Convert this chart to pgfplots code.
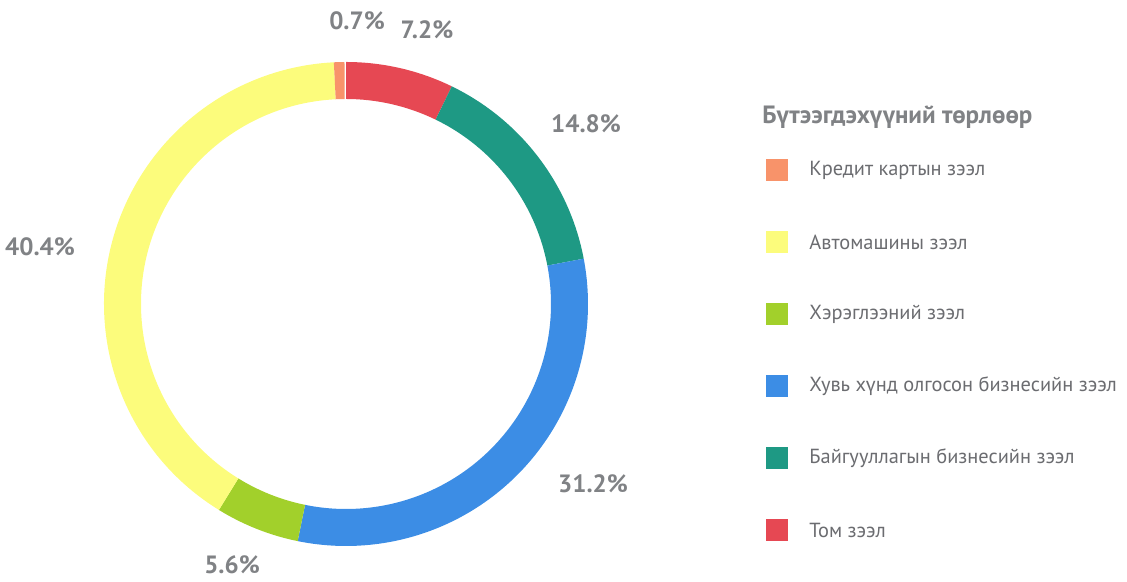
\documentclass[border=0pt]{standalone}
\usepackage{fontspec}
\setmainfont{PT Sans}
\usepackage{pgfplots}
\usepackage{pgfplotstable}
\pgfplotsset{compat=1.18}

\definecolor{cOrange}{HTML}{F8936A}
\definecolor{cYellow}{HTML}{FCFC7C}
\definecolor{cGreen}{HTML}{A2D02B}
\definecolor{cBlue}{HTML}{3C8DE5}
\definecolor{cTeal}{HTML}{1E9984}
\definecolor{cRed}{HTML}{E64853}
\definecolor{lblgray}{HTML}{808285}
\definecolor{txtgray}{HTML}{6B6C70}

% clockwise from 12 o'clock; label position in pixels
\pgfplotstableread{
value color   lx  ly
7.2   cRed    427 30
14.8  cTeal   586 124
31.2  cBlue   593 484
5.6   cGreen  232 565
40.4  cYellow 40  247
0.7   cOrange 357 21
}\donut

\begin{document}
\begin{tikzpicture}
\begin{axis}[
    hide axis,
    x=0.5pt, y=0.5pt,
    xmin=0, xmax=1127, ymin=0, ymax=582,
    clip=false,
]
\path (axis cs:0,0) rectangle (axis cs:1127,582);
\pgfplotstablegetrowsof{\donut}
\pgfmathtruncatemacro\lastrow{\pgfplotsretval-1}
\def\cum{0}
\pgfplotsforeachungrouped \i in {0,...,\lastrow}{%
  \pgfplotstablegetelem{\i}{value}\of\donut \let\val\pgfplotsretval
  \pgfplotstablegetelem{\i}{color}\of\donut \let\col\pgfplotsretval
  \pgfplotstablegetelem{\i}{lx}\of\donut \let\lx\pgfplotsretval
  \pgfplotstablegetelem{\i}{ly}\of\donut \let\ly\pgfplotsretval
  \pgfmathsetmacro\angA{90-3.6*\cum}
  \pgfmathsetmacro\angB{90-3.6*(\cum+\val)}
  \pgfmathsetmacro\xo{346+242*cos(\angA)}
  \pgfmathsetmacro\yo{278+242*sin(\angA)}
  \pgfmathsetmacro\xi{346+205*cos(\angB)}
  \pgfmathsetmacro\yi{278+205*sin(\angB)}
  \pgfmathsetmacro\lyy{582-\ly}
  \edef\seg{\noexpand\fill[\col] (axis cs:\xo,\yo)
      arc[start angle=\angA, end angle=\angB, radius=121pt]
      -- (axis cs:\xi,\yi)
      arc[start angle=\angB, end angle=\angA, radius=102.5pt] -- cycle;
    \noexpand\node[inner sep=0pt, text=lblgray, font=\noexpand\bfseries\noexpand\fontsize{12.5}{14}\noexpand\selectfont]
      at (axis cs:\lx,\lyy) {\noexpand\pgfmathprintnumber[fixed,fixed zerofill,precision=1,assume math mode=true]{\val}\noexpand\%};}
  \seg
  \pgfmathsetmacro\cum{\cum+\val}
}

% legend
\node[anchor=west, inner sep=0pt, text=lblgray, font=\bfseries\fontsize{12.5}{14}\selectfont]
  at (axis cs:762,465) {Бүтээгдэхүүний төрлөөр};
\foreach \c/\t [count=\k from 0] in {cOrange/Кредит картын зээл,
    cYellow/Автомашины зээл,
    cGreen/Хэрэглээний зээл,
    cBlue/Хувь хүнд олгосон бизнесийн зээл,
    cTeal/Байгууллагын бизнесийн зээл,
    cRed/Том зээл}{
  \pgfmathsetmacro\yy{582-170-72*\k}
  \edef\leg{\noexpand\fill[\c] (axis cs:766,\yy-11) rectangle (axis cs:788,\yy+11);
    \noexpand\node[anchor=west, inner sep=0pt, text=txtgray, font=\noexpand\fontsize{10.2}{12}\noexpand\selectfont]
      at (axis cs:809,\yy) {\t};}
  \leg
}
\end{axis}
\end{tikzpicture}
\end{document}
